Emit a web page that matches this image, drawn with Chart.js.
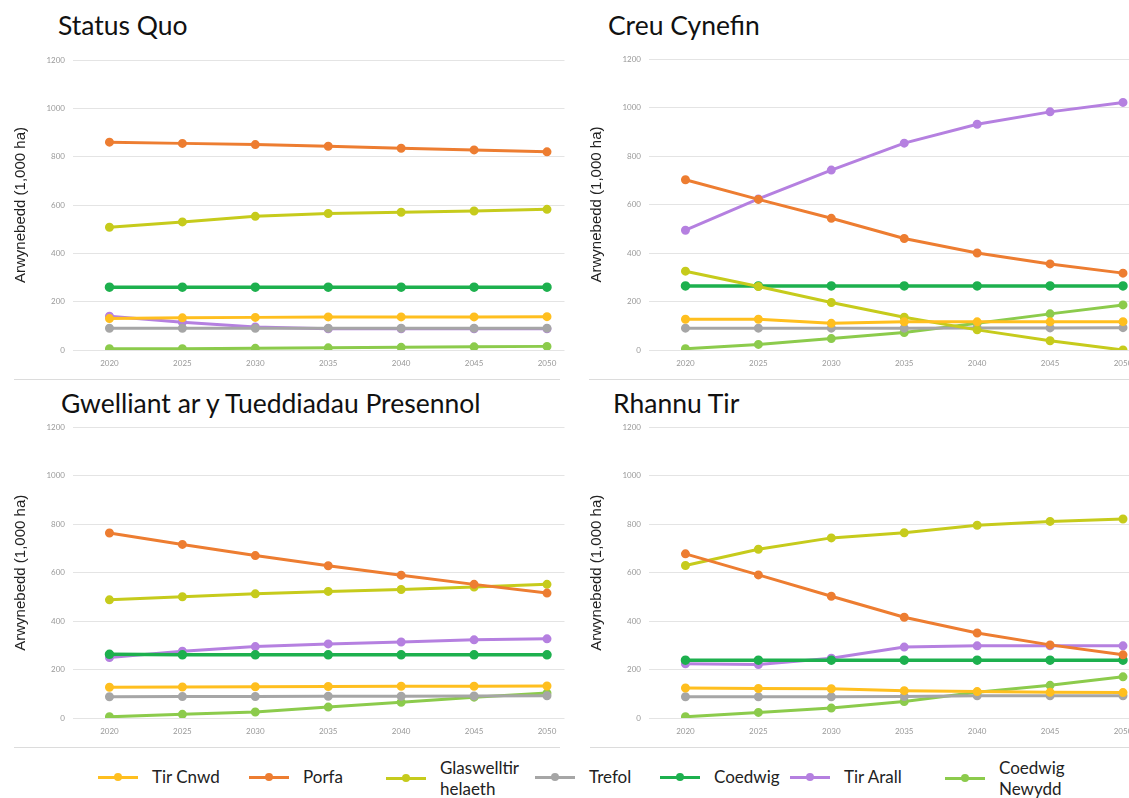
<!DOCTYPE html>
<html>
<head>
<meta charset="utf-8">
<script src="https://cdn.jsdelivr.net/npm/chart.js@4.4.1/dist/chart.umd.min.js"></script>
<style>
  html, body { margin: 0; padding: 0; background: #fff; overflow: hidden; }
  body { width: 1129px; height: 798px; position: relative; font-family: Lato, "Open Sans", sans-serif; }
  .panel-title { position: absolute; font-family: Lato, sans-serif; font-size: 26.5px; color: #111; line-height: 1; white-space: nowrap; }
  .box { position: absolute; }
  .box canvas { display: block; }
  .rule { position: absolute; height: 0; border-top: 1px solid #dcdcdc; }
  .legend-item { position: absolute; display: flex; align-items: center; font-size: 17px; color: #222; line-height: 21px; }
  .legend-mark { position: relative; width: 40px; height: 10px; margin-right: 14px; }
  .legend-mark .ln { position: absolute; left: 0; right: 0; top: 4px; height: 3px; }
  .legend-mark .dot { position: absolute; left: 16px; top: 1px; width: 8px; height: 8px; border-radius: 50%; }
</style>
</head>
<body>

<div class="panel-title" style="left:58px; top:12px;">Status Quo</div>
<div class="panel-title" style="left:608px; top:12px;">Creu Cynefin</div>
<div class="panel-title" style="left:61px; top:390px;">Gwelliant ar y Tueddiadau Presennol</div>
<div class="panel-title" style="left:613px; top:390px;">Rhannu Tir</div>

<div class="box" style="left:0px; top:40px; width:571px; height:338px;"><canvas id="chartStatusQuo"></canvas></div>
<div class="box" style="left:576px; top:40px; width:571px; height:338px;"><canvas id="chartCreuCynefin"></canvas></div>
<div class="box" style="left:0px; top:408px; width:571px; height:338px;"><canvas id="chartGwelliant"></canvas></div>
<div class="box" style="left:576px; top:408px; width:571px; height:338px;"><canvas id="chartRhannuTir"></canvas></div>

<div class="rule" style="left:14px; width:546px; top:379px;"></div>
<div class="rule" style="left:589px; width:540px; top:379px;"></div>
<div class="rule" style="left:14px; width:546px; top:747px;"></div>
<div class="rule" style="left:590px; width:539px; top:747px;"></div>

<div id="legend"></div>

<script>
// Blynyddoedd (echel x)
const blynyddoedd = [2020, 2025, 2030, 2035, 2040, 2045, 2050];
const ticiauY = [0, 200, 400, 600, 800, 1000, 1200];

// Enwau'r cyfresi a'u lliwiau
const cyfresi = ['Tir Cnwd', 'Porfa', 'Glaswelltir helaeth', 'Trefol', 'Coedwig', 'Tir Arall', 'Coedwig Newydd'];
const lliwiau = ['#FFBF1F', '#ED7D31', '#C6CB1C', '#A6A6A6', '#1DB04E', '#B580E0', '#8CCB4C'];

// Status Quo
const sqTirCnwd = [130, 133, 135, 137, 137, 137, 138];
const sqPorfa = [860, 855, 850, 843, 835, 828, 820];
const sqGlaswelltir = [508, 530, 553, 565, 570, 575, 582];
const sqTrefol = [90, 90, 90, 90, 90, 90, 90];
const sqCoedwig = [260, 260, 260, 260, 260, 260, 260];
const sqTirArall = [140, 115, 95, 88, 88, 88, 88];
const sqCoedwigNewydd = [5, 5, 7, 9, 11, 13, 15];

// Creu Cynefin
const ccTirCnwd = [127, 127, 110, 116, 116, 116, 117];
const ccPorfa = [702, 621, 543, 460, 400, 355, 317];
const ccGlaswelltir = [325, 262, 196, 135, 83, 38, 0];
const ccTrefol = [90, 90, 90, 90, 91, 91, 92];
const ccCoedwig = [264, 264, 264, 264, 264, 264, 264];
const ccTirArall = [494, 623, 742, 853, 931, 982, 1021];
const ccCoedwigNewydd = [5, 23, 47, 72, 110, 149, 186];

// Gwelliant ar y Tueddiadau Presennol
const gwTirCnwd = [127, 128, 129, 130, 131, 131, 132];
const gwPorfa = [764, 717, 671, 629, 590, 552, 516];
const gwGlaswelltir = [488, 501, 513, 523, 531, 541, 552];
const gwTrefol = [88, 89, 89, 90, 90, 91, 92];
const gwCoedwig = [263, 261, 261, 261, 261, 261, 261];
const gwTirArall = [250, 276, 295, 306, 314, 323, 327];
const gwCoedwigNewydd = [5, 15, 25, 45, 65, 86, 103];

// Rhannu Tir
const rtTirCnwd = [124, 122, 121, 113, 109, 106, 105];
const rtPorfa = [678, 591, 503, 416, 351, 302, 261];
const rtGlaswelltir = [630, 697, 744, 765, 796, 812, 822];
const rtTrefol = [88, 88, 88, 89, 92, 92, 92];
const rtCoedwig = [239, 239, 239, 239, 239, 239, 239];
const rtTirArall = [224, 221, 247, 293, 298, 298, 298];
const rtCoedwigNewydd = [5, 23, 41, 68, 106, 135, 170];

function buildDatasets(series) {
    return series.map((vals, i) => ({
        label: cyfresi[i],
        data: blynyddoedd.map((yr, j) => ({ x: yr, y: vals[j] })),
        borderColor: lliwiau[i],
        backgroundColor: lliwiau[i],
        borderWidth: i === 4 ? 3.5 : 3,
        pointRadius: 3,
        pointHoverRadius: 3,
        tension: 0
    }));
}

function renderChart(id, series, padTop) {
    const ctx = document.getElementById(id).getContext('2d');
    new Chart(ctx, {
        type: 'line',
        data: { datasets: buildDatasets(series) },
        options: {
            responsive: true,
            maintainAspectRatio: false,
            animation: false,
            layout: { padding: { top: padTop, right: 2, left: 0, bottom: 0 } },
            plugins: { legend: { display: false }, tooltip: { enabled: false } },
            scales: {
                x: {
                    type: 'linear',
                    min: 2017.5,
                    max: 2051.2,
                    grid: { display: false, drawTicks: false },
                    border: { display: false },
                    afterBuildTicks: s => { s.ticks = blynyddoedd.map(v => ({ value: v })); },
                    afterFit: s => { s.height = 28; s.paddingLeft = 0; s.paddingRight = 0; },
                    ticks: {
                        padding: 9,
                        color: '#999',
                        font: { family: 'Lato', size: 8 },
                        maxRotation: 0,
                        callback: v => String(v)
                    }
                },
                y: {
                    min: 0,
                    max: 1200,
                    afterBuildTicks: s => { s.ticks = ticiauY.map(v => ({ value: v })); },
                    afterFit: s => { s.width = 73; s.paddingTop = 0; s.paddingBottom = 0; },
                    grid: { color: '#e4e4e4', lineWidth: 1, drawTicks: false },
                    border: { display: false },
                    ticks: {
                        padding: 8,
                        color: '#999',
                        font: { family: 'Lato', size: 8 },
                        callback: v => String(v)
                    },
                    title: {
                        display: true,
                        text: 'Arwynebedd (1,000 ha)',
                        color: '#222',
                        font: { family: 'Liberation Sans', size: 15 },
                        padding: { top: 12, bottom: 0 }
                    }
                }
            }
        }
    });
}

renderChart('chartStatusQuo', [sqTirCnwd, sqPorfa, sqGlaswelltir, sqTrefol, sqCoedwig, sqTirArall, sqCoedwigNewydd], 20);
renderChart('chartCreuCynefin', [ccTirCnwd, ccPorfa, ccGlaswelltir, ccTrefol, ccCoedwig, ccTirArall, ccCoedwigNewydd], 19);
renderChart('chartGwelliant', [gwTirCnwd, gwPorfa, gwGlaswelltir, gwTrefol, gwCoedwig, gwTirArall, gwCoedwigNewydd], 19.5);
renderChart('chartRhannuTir', [rtTirCnwd, rtPorfa, rtGlaswelltir, rtTrefol, rtCoedwig, rtTirArall, rtCoedwigNewydd], 19.5);

// Allwedd (legend) ar y gwaelod
const legendX = [98, 249, 386, 535, 660, 790, 945];
const legendLabels = ['Tir Cnwd', 'Porfa', 'Glaswelltir<br>helaeth', 'Trefol', 'Coedwig', 'Tir Arall', 'Coedwig<br>Newydd'];
const legend = document.getElementById('legend');
cyfresi.forEach((name, i) => {
    const item = document.createElement('div');
    item.className = 'legend-item';
    const twoLines = legendLabels[i].includes('<br>');
    item.style.left = legendX[i] + 'px';
    item.style.top = (twoLines ? 757 : 766) + 'px';
    item.innerHTML = `<span class="legend-mark"><span class="ln" style="background:${lliwiau[i]}"></span><span class="dot" style="background:${lliwiau[i]}"></span></span><span>${legendLabels[i]}</span>`;
    legend.appendChild(item);
});
</script>
</body>
</html>
